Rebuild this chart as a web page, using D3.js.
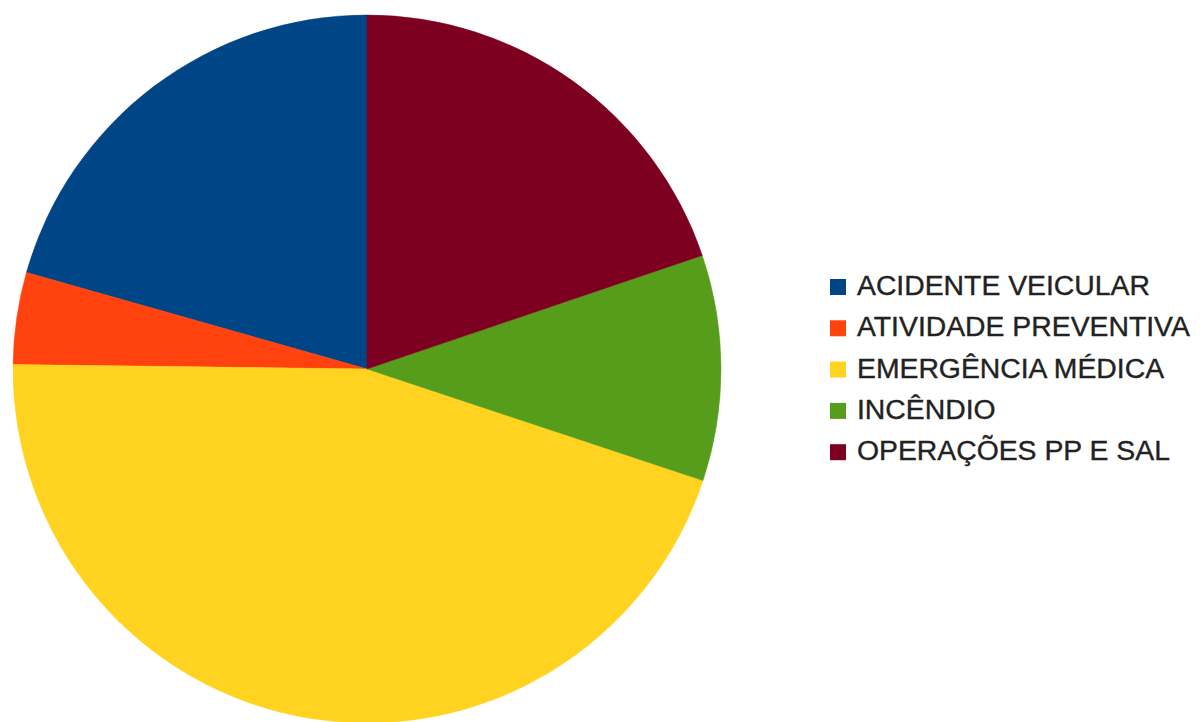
<!DOCTYPE html>
<html>
<head>
<meta charset="utf-8">
<script src="https://cdn.jsdelivr.net/npm/d3@7"></script>
<style>
  html, body { margin: 0; padding: 0; background: #ffffff; }
  svg { display: block; }
</style>
</head>
<body>
<svg id="chart" width="1200" height="722"></svg>
<script>
// Ocorrências por tipo (percentual)
const categories = [
  "ACIDENTE VEICULAR",
  "ATIVIDADE PREVENTIVA",
  "EMERGÊNCIA MÉDICA",
  "INCÊNDIO",
  "OPERAÇÕES PP E SAL"
];
const values = [20.6, 4.2, 45.1, 10.3, 19.8];
const colors = ["#004586", "#ff420e", "#ffd320", "#579d1c", "#7e0021"];

const svg = d3.select("#chart");
const cx = 367, cy = 369, radius = 354;

const color = d3.scaleOrdinal().domain(categories).range(colors);

// Slices run counter-clockwise from twelve o'clock
const pie = d3.pie()
  .sort(null)
  .value(d => d.value)
  .startAngle(0)
  .endAngle(-2 * Math.PI);

const arc = d3.arc().innerRadius(0).outerRadius(radius);

const data = categories.map((c, i) => ({ name: c, value: values[i] }));

svg.append("g")
  .attr("transform", `translate(${cx},${cy})`)
  .selectAll("path")
  .data(pie(data))
  .join("path")
  .attr("d", arc)
  .attr("fill", d => color(d.data.name))
  .attr("stroke", d => color(d.data.name))
  .attr("stroke-width", 0.5);

// Legend
const legend = svg.append("g").attr("transform", "translate(830,295)");
const rowStep = 41.3;
const rows = legend.selectAll("g")
  .data(categories)
  .join("g")
  .attr("transform", (d, i) => `translate(0,${i * rowStep})`);

rows.append("rect")
  .attr("x", 0)
  .attr("y", -16)
  .attr("width", 16)
  .attr("height", 16)
  .attr("fill", d => color(d));

rows.append("text")
  .attr("transform", "translate(27,0) scale(1.05,1)")
  .attr("font-family", "'Liberation Sans', Arial, sans-serif")
  .attr("font-size", 27)
  .attr("fill", "#222")
  .attr("stroke", "#222")
  .attr("stroke-width", 0.35)
  .text(d => d);
</script>
</body>
</html>
